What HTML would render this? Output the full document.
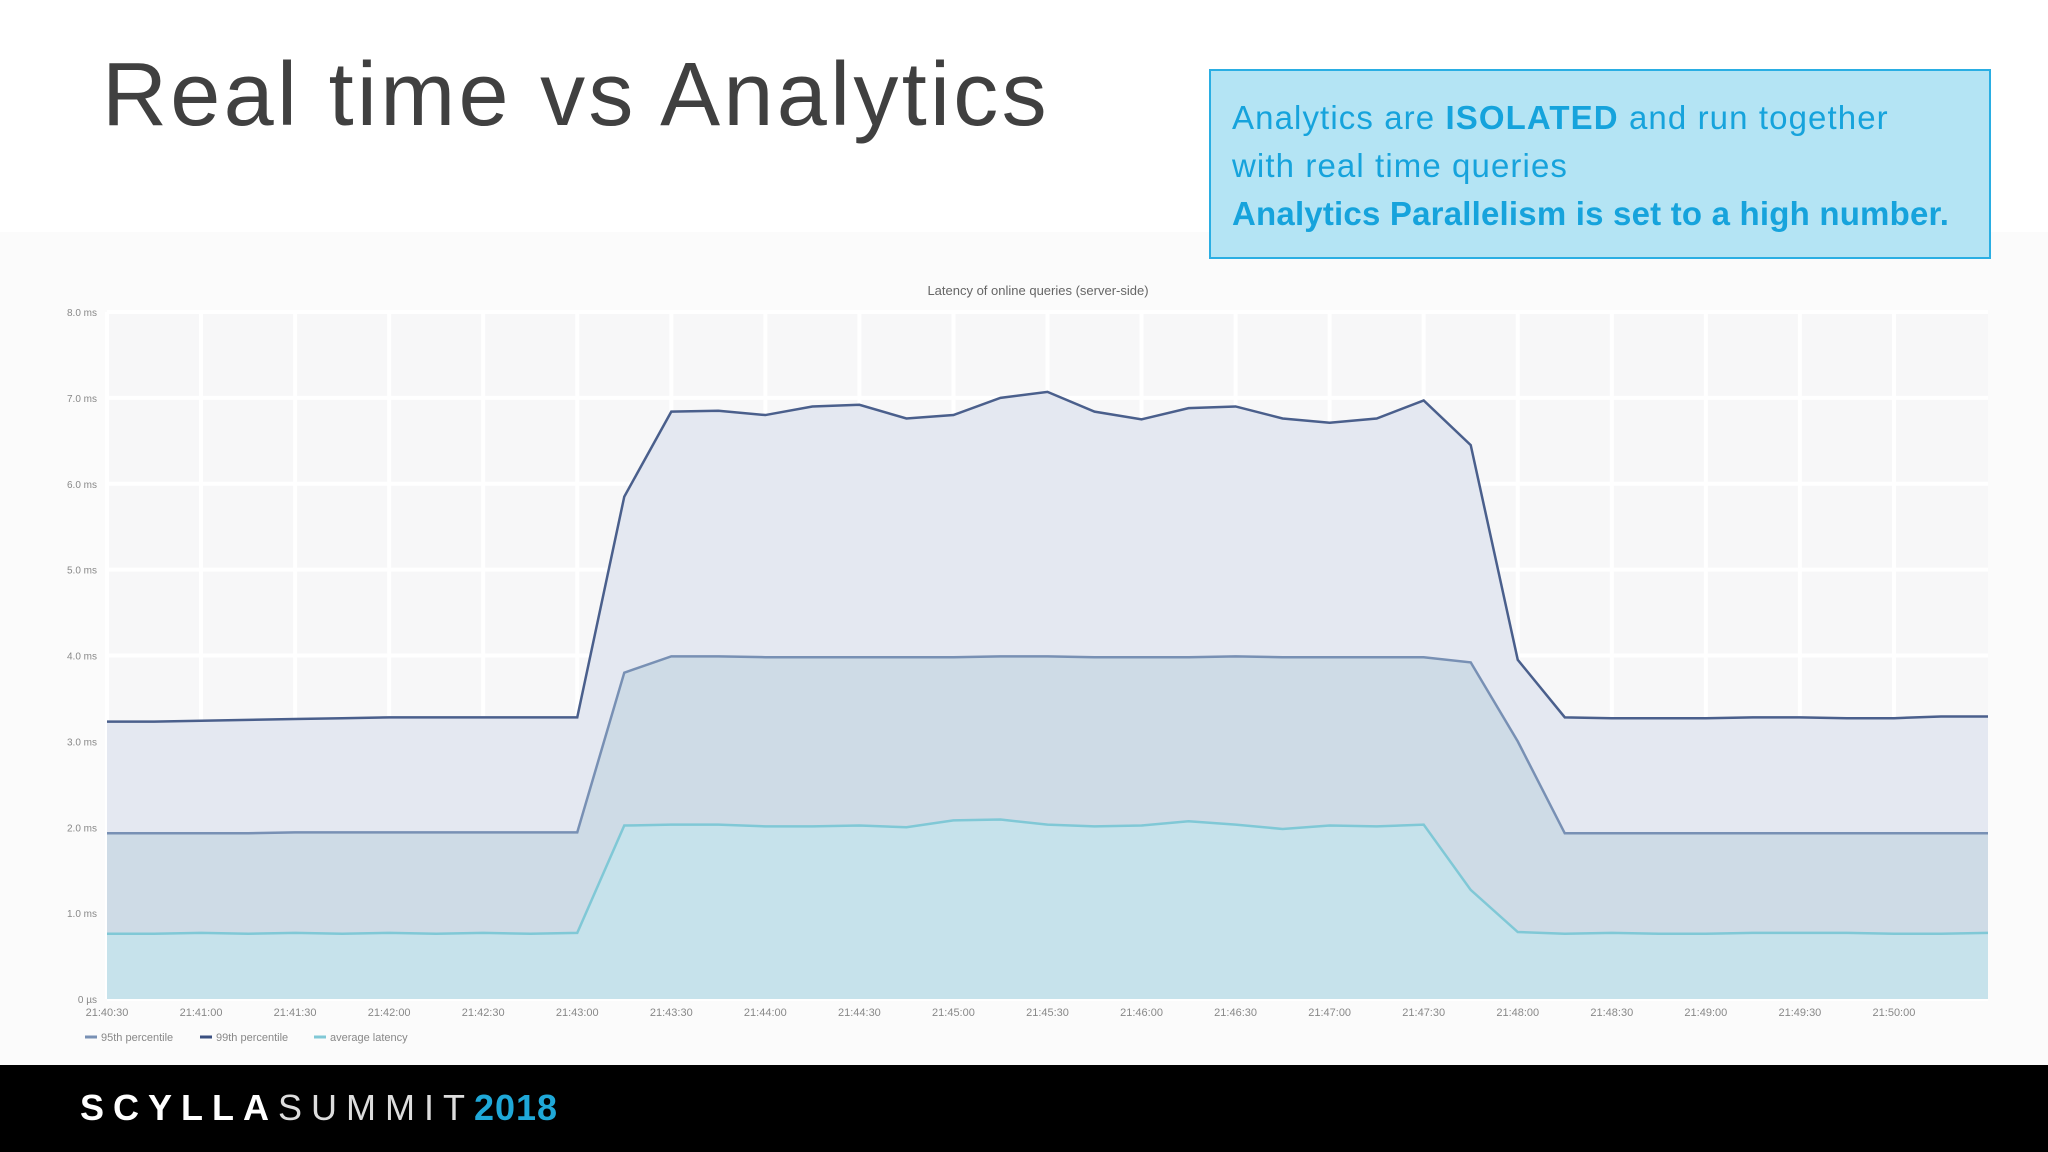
<!DOCTYPE html>
<html><head><meta charset="utf-8">
<style>
html,body{margin:0;padding:0;width:2048px;height:1152px;overflow:hidden;background:#fff;font-family:"Liberation Sans",sans-serif}
#title{position:absolute;left:102px;top:44px;font-size:90px;color:#404040;letter-spacing:3.3px;margin:0;font-weight:normal}
#note{position:absolute;z-index:5;left:1209px;top:69px;width:782px;height:190px;box-sizing:border-box;background:#b4e4f4;border:2px solid #2aaee3;color:#16a3dc;font-size:33px;letter-spacing:1.1px;line-height:48px;padding:23px 0 0 21px;white-space:nowrap}
#note .b2{letter-spacing:0.2px}
#chartbg{position:absolute;left:0;top:232px;width:2048px;height:833px;background:#fbfbfb}
#footer{position:absolute;left:0;top:1065px;width:2048px;height:87px;background:#000}
#brand{position:absolute;left:80px;top:22px;font-size:36px;letter-spacing:9px;color:#fff}
</style></head><body>
<h1 id="title">Real time vs Analytics</h1>
<div id="note">Analytics are <b>ISOLATED</b> and run together<br>with real time queries<br><b class="b2">Analytics Parallelism is set to a high number.</b></div>
<div id="chartbg"></div>
<svg id="chart" width="2048" height="1152" style="position:absolute;left:0;top:0"></svg>
<div id="footer"><div id="brand"><b>SCYLLA</b><span style="font-weight:normal;color:#ddd">SUMMIT</span><b style="color:#1fa8d8;letter-spacing:1px">2018</b></div></div>
<script>
const yTicks=["0 µs","1.0 ms","2.0 ms","3.0 ms","4.0 ms","5.0 ms","6.0 ms","7.0 ms","8.0 ms"];
const xTicks=["21:40:30","21:41:00","21:41:30","21:42:00","21:42:30","21:43:00","21:43:30","21:44:00","21:44:30","21:45:00","21:45:30","21:46:00","21:46:30","21:47:00","21:47:30","21:48:00","21:48:30","21:49:00","21:49:30","21:50:00"];
const p99=[3.23,3.23,3.24,3.25,3.26,3.27,3.28,3.28,3.28,3.28,3.28,5.85,6.84,6.85,6.8,6.9,6.92,6.76,6.8,7.0,7.07,6.84,6.75,6.88,6.9,6.76,6.71,6.76,6.97,6.45,3.95,3.28,3.27,3.27,3.27,3.28,3.28,3.27,3.27,3.29,3.29];
const p95=[1.93,1.93,1.93,1.93,1.94,1.94,1.94,1.94,1.94,1.94,1.94,3.8,3.99,3.99,3.98,3.98,3.98,3.98,3.98,3.99,3.99,3.98,3.98,3.98,3.99,3.98,3.98,3.98,3.98,3.92,3.0,1.93,1.93,1.93,1.93,1.93,1.93,1.93,1.93,1.93,1.93];
const avg=[0.76,0.76,0.77,0.76,0.77,0.76,0.77,0.76,0.77,0.76,0.77,2.02,2.03,2.03,2.01,2.01,2.02,2.0,2.08,2.09,2.03,2.01,2.02,2.07,2.03,1.98,2.02,2.01,2.03,1.27,0.78,0.76,0.77,0.76,0.76,0.77,0.77,0.77,0.76,0.76,0.77];
const NS="http://www.w3.org/2000/svg",svg=document.getElementById('chart');
const L=107,R=1988,T=312,B=999;
const xs=i=>L+(R-L)*i/(p99.length-1);
const ys=v=>B-(B-T)*v/8;
function mk(t,a){const e=document.createElementNS(NS,t);for(const k in a)e.setAttribute(k,a[k]);svg.appendChild(e);return e;}
let bg=mk('rect',{x:L,y:T,width:R-L,height:B-T,fill:'#f7f7f8'});


yTicks.forEach((t,i)=>{const y=ys(i);
 let g=mk('line',{x1:L,x2:R,y1:y,y2:y,stroke:'#fff','stroke-width':4});
 
 
 let tx=mk('text',{x:L-10,y:y+4,'text-anchor':'end','font-size':10,fill:'#888'});tx.textContent=t;
 
 });
xTicks.forEach((t,i)=>{const x=xs(i*2);
 let g=mk('line',{x1:x,x2:x,y1:T,y2:B,stroke:'#fff','stroke-width':4});
 
 
 let tx=mk('text',{x:x,y:B+17,'text-anchor':'middle','font-size':11,fill:'#888'});tx.textContent=t;
 
 });
function series(d,fill,stroke,name){
 const pts=d.map((v,i)=>xs(i)+','+ys(v)).join(' ');
 let a=mk('polygon',{points:L+','+B+' '+pts+' '+R+','+B,fill:fill});
 
 
 let l=mk('polyline',{points:pts,fill:'none',stroke:stroke,'stroke-width':2.5});
 
 }
series(p99,'#e4e8f1','#4a5f8c','p99');
series(p95,'#cedbe6','#7890b4','p95');
series(avg,'#c6e2eb','#80c8d6','avg');
let ct=mk('text',{x:1038,y:295,'text-anchor':'middle','font-size':13,fill:'#666'});ct.textContent='Latency of online queries (server-side)';


const legend=[["95th percentile","#7890b4",85],["99th percentile","#3a4f80",200],["average latency","#80c8d6",314]];
legend.forEach(l=>{let g=mk('line',{x1:l[2],x2:l[2]+12,y1:1037,y2:1037,stroke:l[1],'stroke-width':3});
 
 
 let t=mk('text',{x:l[2]+16,y:1041,'font-size':11,fill:'#888'});t.textContent=l[0];
 
 });
</script>
</body></html>
